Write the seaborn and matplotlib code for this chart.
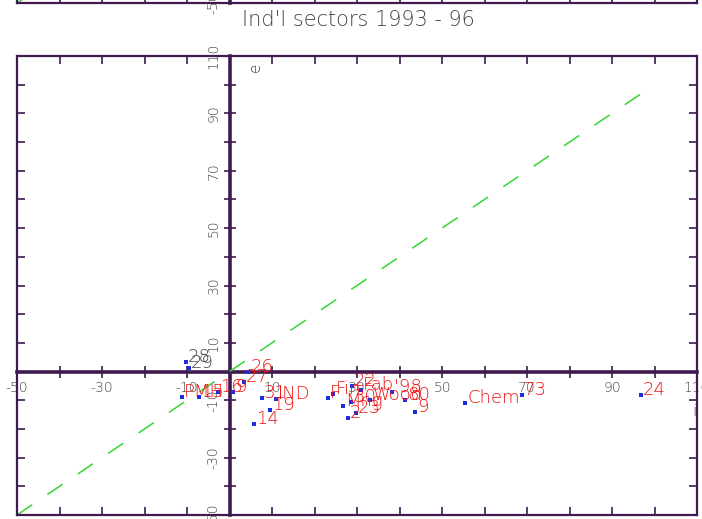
import numpy as np
import pandas as pd
import matplotlib
matplotlib.use("Agg")
import matplotlib.pyplot as plt
import seaborn as sns

sns.set_theme(style="white")
plt.rcParams["font.family"] = ["DejaVu Sans"]
plt.rcParams["font.weight"] = 200

# Sector coordinates: i (horizontal) and e (vertical)
sector_labels = ["28", "29", "PMH", "15", "16", "9",
                 "26", "27", "31", "IND", "19", "14",
                 "Fin", "Fab", "'98", "22", "F", "Mng", "Wood", "2", "23", "30", "80", "9",
                 "Chem", "73", "24"]
i_values = [-10.2, -9.5, -11.2, -7.2, -2.7, 0.8,
            4.4, 3.4, 7.6, 10.9, 9.5, 5.8,
            24.4, 30.9, 38.2, 28.8, 23.2, 26.7, 33.1, 27.9, 29.8, 28.6, 41.3, 43.6,
            55.4, 68.8, 96.8]
e_values = [3.3, 1.2, -8.9, -8.9, -7.1, -7.1,
            -0.2, -3.7, -9.2, -9.6, -13.4, -18.3,
            -7.8, -6.4, -7.1, -5.1, -9.2, -12.0, -9.9, -16.2, -14.5, -10.6, -9.9, -14.1,
            -11.0, -8.2, -8.2]
label_colors = ["#444444", "#444444"] + ["#ee1111"] * 25

# Reference diagonal i = e
diag = [-50, 100]

axis_lo, axis_hi = -50, 110
tick_values = list(range(axis_lo, axis_hi + 1, 10))
tick_text = [str(v) if (v - axis_lo) % 20 == 0 else "" for v in tick_values]

FRAME = "#3d1a4f"
BLUE = "#1a2ee0"
GREEN = "#33d633"
TEXT = "#444444"

df = pd.DataFrame({"i": i_values, "e": e_values, "label": sector_labels})

W, H = 702, 519
fig = plt.figure(figsize=(W / 100, H / 100), dpi=100)


def px_box(left, top, right, bottom):
    return [left / W, 1 - bottom / H, (right - left) / W, (bottom - top) / H]


def style_panel(ax, with_labels=True):
    ax.set_xlim(axis_lo, axis_hi)
    ax.set_ylim(axis_lo, axis_hi)
    ax.set_xticks(tick_values)
    ax.set_yticks(tick_values)
    ax.tick_params(direction="in", length=6, width=1.2, colors=FRAME,
                   top=True, right=True, bottom=True, left=True,
                   labelbottom=False, labelleft=False)
    for sp in ax.spines.values():
        sp.set_color(FRAME)
        sp.set_linewidth(1.6)
        sp.set_visible(True)
    ax.set_xlabel("")
    ax.set_ylabel("")
    ax.grid(False)
    ax.set_facecolor("white")

    frac = (0 - axis_lo) / (axis_hi - axis_lo)
    sx = ax.secondary_xaxis(frac)
    sx.set_xticks(tick_values)
    sx.set_xticklabels(tick_text if with_labels else [""] * len(tick_values))
    sx.tick_params(direction="inout", length=9, width=1.2, color=FRAME,
                   labelsize=10, labelcolor=TEXT, pad=2)
    for sp in sx.spines.values():
        sp.set_color(FRAME)
        sp.set_linewidth(2.6)

    sy = ax.secondary_yaxis(frac)
    sy.set_yticks(tick_values)
    sy.set_yticklabels(tick_text)
    sy.tick_params(direction="inout", length=9, width=1.2, color=FRAME,
                   labelsize=10, labelcolor=TEXT, pad=2, labelrotation=90)
    for lab in sy.get_yticklabels():
        lab.set_va("center")
    for sp in sy.spines.values():
        sp.set_color(FRAME)
        sp.set_linewidth(2.6)

    ax.plot(diag, diag, color=GREEN, lw=1.1, linestyle=(0, (12, 12)), zorder=2)


# Panel above (only its lower edge is in view)
ax_top = fig.add_axes(px_box(17, -456, 697, 3))
style_panel(ax_top, with_labels=False)

# Main panel
ax = fig.add_axes(px_box(17, 56, 697, 515))
style_panel(ax)

sns.scatterplot(data=df, x="i", y="e", marker="s", s=7, color=BLUE,
                edgecolor=BLUE, linewidth=0, legend=False, ax=ax, zorder=4)
ax.set_xlabel("")
ax.set_ylabel("")

for lab, xv, yv, col in zip(sector_labels, i_values, e_values, label_colors):
    ax.annotate(lab, (xv, yv), xytext=(1.5, 0), textcoords="offset points",
                ha="left", va="baseline", fontsize=13, color=col, zorder=5)

ax.text(0.35, 0.985, "e", transform=ax.transAxes, rotation=90,
        ha="center", va="top", fontsize=11, color=TEXT)
ax.text(0.996, 0.225, "i", transform=ax.transAxes,
        ha="center", va="center", fontsize=11, color=TEXT)

fig.text(358 / W, 1 - 20 / H, "Ind'l sectors 1993 - 96", ha="center",
         va="center", fontsize=15, color=TEXT)

fig.savefig("out.png", dpi=100, facecolor="white")
